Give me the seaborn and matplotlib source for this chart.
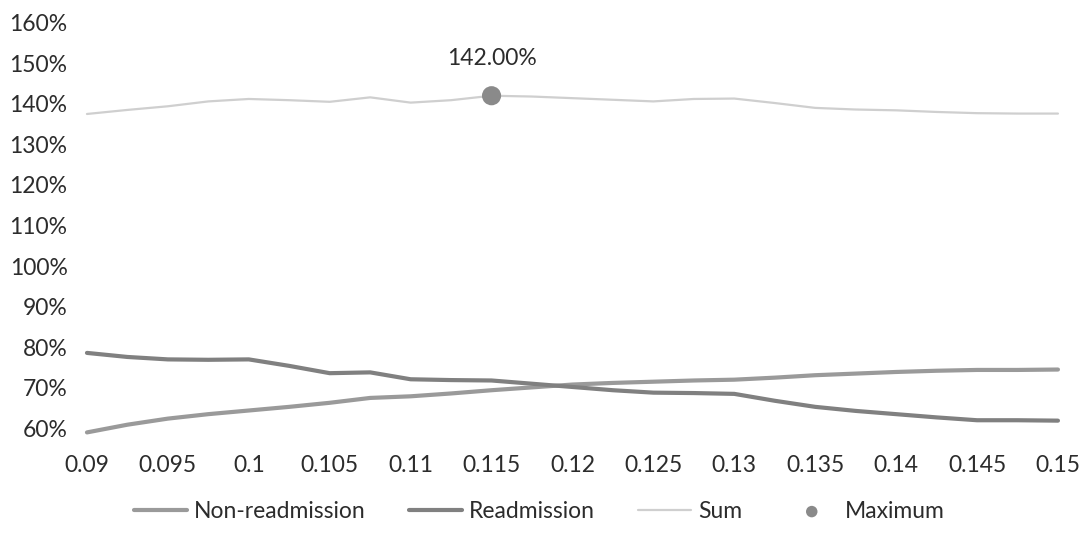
import numpy as np
import pandas as pd
import seaborn as sns
import matplotlib
matplotlib.use("Agg")
import matplotlib.pyplot as plt

# Threshold values (x) and the percentage series drawn against them
thresholds = [0.09, 0.0925, 0.095, 0.0975, 0.1, 0.1025, 0.105, 0.1075, 0.11,
              0.1125, 0.115, 0.1175, 0.12, 0.1225, 0.125, 0.1275, 0.13,
              0.1325, 0.135, 0.1375, 0.14, 0.1425, 0.145, 0.1475, 0.15]

non_readmission = [59.0, 60.9, 62.4, 63.5, 64.4, 65.3, 66.3, 67.5, 67.9,
                   68.6, 69.4, 70.1, 70.8, 71.2, 71.5, 71.8, 72.0,
                   72.5, 73.1, 73.5, 73.9, 74.2, 74.4, 74.4, 74.5]

readmission = [78.6, 77.6, 77.0, 76.9, 77.0, 75.4, 73.6, 73.8, 72.1,
               71.9, 71.8, 71.0, 70.2, 69.4, 68.8, 68.7, 68.5,
               66.8, 65.3, 64.3, 63.5, 62.7, 62.0, 62.0, 61.9]

sum_values = [137.5, 138.5, 139.4, 140.6, 141.2, 140.9, 140.5, 141.6, 140.3,
              140.9, 142.0, 141.8, 141.4, 141.0, 140.6, 141.2, 141.3,
              140.2, 139.0, 138.6, 138.4, 138.0, 137.7, 137.6, 137.6]

maximum_x = [0.115]
maximum_y = [142.0]

x_ticks = [0.09, 0.095, 0.1, 0.105, 0.11, 0.115, 0.12, 0.125, 0.13,
           0.135, 0.14, 0.145, 0.15]
x_tick_labels = ["0.09", "0.095", "0.1", "0.105", "0.11", "0.115", "0.12",
                 "0.125", "0.13", "0.135", "0.14", "0.145", "0.15"]
y_ticks = [60, 70, 80, 90, 100, 110, 120, 130, 140, 150, 160]
y_tick_labels = [f"{v}%" for v in y_ticks]

sns.set_theme(style="white")
plt.rcParams["font.family"] = ["Lato", "DejaVu Sans"]

text_color = "#2c2c2c"
col_non = "#9a9a9a"
col_re = "#808080"
col_sum = "#cfcfcf"
col_max = "#8a8a8a"
font_size = 16.5

fig = plt.figure(figsize=(10.79, 5.42), dpi=100)
ax = fig.add_axes([0.0806, 0.2022, 0.8999, 0.7559])

df = pd.DataFrame({"x": thresholds, "non": non_readmission,
                   "re": readmission, "sum": sum_values})

sns.lineplot(data=df, x="x", y="non", ax=ax, color=col_non, linewidth=3.0,
             label="Non-readmission", clip_on=False)
sns.lineplot(data=df, x="x", y="re", ax=ax, color=col_re, linewidth=3.0,
             label="Readmission", clip_on=False)
sns.lineplot(data=df, x="x", y="sum", ax=ax, color=col_sum, linewidth=1.6,
             label="Sum", clip_on=False)
sns.scatterplot(x=maximum_x, y=maximum_y, ax=ax, color=col_max, s=190,
                edgecolor="none", label="Maximum", zorder=5, clip_on=False)

for mx, my in zip(maximum_x, maximum_y):
    ax.annotate(f"{my:.2f}%", xy=(mx, my), xytext=(0, 19),
                textcoords="offset points", ha="center", va="bottom",
                fontsize=font_size, color=text_color)

ax.set_xlim(0.09, 0.15)
ax.set_ylim(59, 160)
ax.set_xticks(x_ticks)
ax.set_xticklabels(x_tick_labels)
ax.set_yticks(y_ticks)
ax.set_yticklabels(y_tick_labels)
ax.tick_params(axis="both", length=0, labelsize=font_size, colors=text_color)
ax.tick_params(axis="x", pad=16)
ax.tick_params(axis="y", pad=14)
ax.set_xlabel("")
ax.set_ylabel("")
for s in ax.spines.values():
    s.set_visible(False)
ax.grid(False)

handles, labels = ax.get_legend_handles_labels()
ax.get_legend().remove()
leg = fig.legend(handles, labels, loc="center", bbox_to_anchor=(0.5, 0.057),
                 ncol=4, frameon=False, fontsize=font_size, handlelength=2.3,
                 handletextpad=0.3, columnspacing=1.9, markerscale=0.6)
for t in leg.get_texts():
    t.set_color(text_color)

fig.savefig("out.png", dpi=100, facecolor="white")
